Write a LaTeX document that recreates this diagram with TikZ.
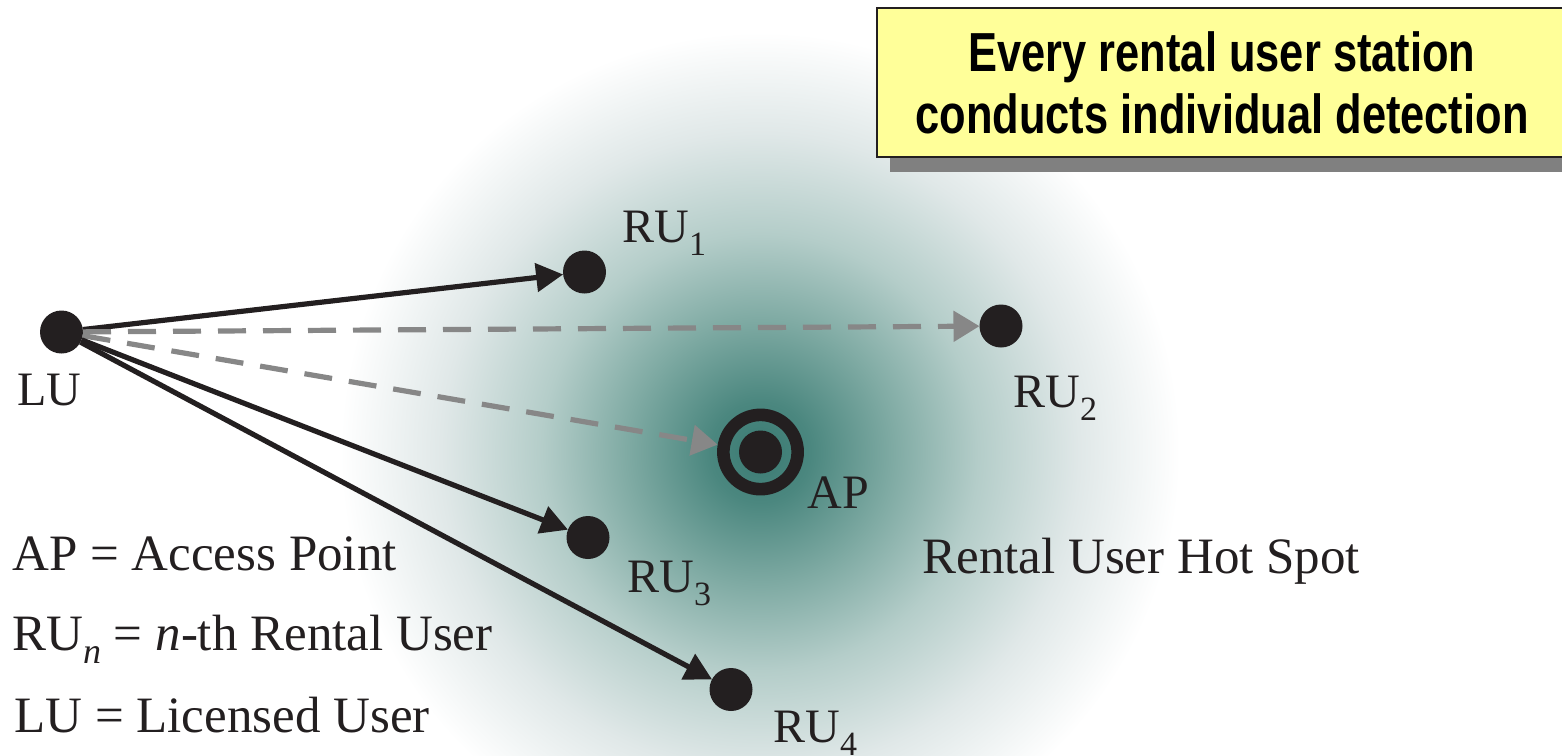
\documentclass[tikz,border=0pt]{standalone}
\usepackage{fontspec}
\setmainfont{Liberation Serif}
\newfontfamily\titlefont[FakeStretch=0.79, UprightFont=* Bold]{Liberation Sans}
\usetikzlibrary{arrows.meta,shadows}

\definecolor{ink}{RGB}{35,31,32}
\definecolor{dashgray}{RGB}{135,135,135}
\definecolor{boxyellow}{RGB}{255,255,153}
\definecolor{shadowgray}{RGB}{128,128,128}
\definecolor{hsa}{RGB}{58,122,114}
\definecolor{hsb}{RGB}{75,135,127}
\definecolor{hsc}{RGB}{128,171,164}
\definecolor{hsd}{RGB}{180,205,201}
\definecolor{hse}{RGB}{224,232,232}
\pgfdeclareradialshading{hotspot}{\pgfpoint{0bp}{0bp}}{color(0bp)=(hsa); color(3bp)=(hsb); color(8bp)=(hsc); color(13bp)=(hsd); color(19bp)=(hse); color(25bp)=(white); color(50bp)=(white)}

\newcommand\lsub[1]{\raisebox{-6.5pt}{\fontsize{17pt}{17pt}\selectfont #1}}
\newcommand\legsub[1]{\raisebox{-6.5pt}{\fontsize{18pt}{18pt}\selectfont #1}}

\tikzset{
  dot/.style={circle, fill=ink, inner sep=0pt, outer sep=0pt, minimum size=21.5pt},
  apring/.style={circle, draw=ink, line width=6.3pt, inner sep=0pt, minimum size=37.15pt},
  lbl/.style={anchor=base west, inner sep=0pt, text=ink, font=\fontsize{24pt}{24pt}\selectfont},
  legend/.style={anchor=base west, inner sep=0pt, text=ink, font=\fontsize{25.5pt}{25.5pt}\selectfont},
  titlebox/.style={draw=ink, line width=0.75pt, fill=boxyellow, align=center,
    minimum width=345pt, minimum height=74.5pt, inner sep=0pt,
    font=\titlefont\fontsize{27.5pt}{31pt}\selectfont,
    drop shadow={shadow xshift=6.5pt, shadow yshift=-7.5pt, fill=shadowgray, opacity=1}},
  solidarrow/.style={draw=ink, line width=2.6pt, -{Triangle[length=13.5pt, width=14pt]}},
  dasharrow/.style={draw=dashgray, line width=2.6pt, dash pattern=on 14pt off 8.5pt, -{Triangle[length=13pt, width=15pt]}}
}

\begin{document}
\begin{tikzpicture}[x=0.5pt, y=-0.5pt]
\useasboundingbox (0,0) rectangle (1562,755);
\begin{scope}
  \clip (0,0) rectangle (1562,755);
  \shade[shading=hotspot] (760,452) circle (420);
\end{scope}

\node (title) [titlebox] at (1222,82.5) {Every rental user station\\conducts individual detection};

\node (LU)  [dot] at (61.5,332) {};
\node (RU1) [dot] at (584.5,272) {};
\node (RU2) [dot] at (1001,326) {};
\node (AP)  [apring] at (760.5,452) {};
\node (APc) [dot] at (760.5,452) {};
\node (RU3) [dot] at (588,537.5) {};
\node (RU4) [dot] at (731,689.5) {};

\draw[solidarrow] (LU) -- (RU1);
\draw[dasharrow] (LU) -- (RU2);
\draw[dasharrow] (LU) -- (AP);
\draw[solidarrow] (LU) -- (RU3);
\draw[solidarrow] (LU) -- (RU4);

\node (LUl)  [lbl] at (17,405) {LU};
\node (RU1l) [lbl] at (622,242) {RU\lsub{1}};
\node (RU2l) [lbl] at (1013,407) {RU\lsub{2}};
\node (APl)  [lbl] at (807,508) {AP};
\node (RU3l) [lbl] at (627,592) {RU\lsub{3}};
\node (RU4l) [lbl] at (773,742) {RU\lsub{4}};

\node (hot)  [legend] at (922,573) {Rental User Hot Spot};
\node (leg1) [legend] at (12,570) {AP = Access Point};
\node (leg2) [legend] at (12,650) {RU\legsub{\textit{n}} = \textit{n}-th Rental User};
\node (leg3) [legend] at (14,732) {LU = Licensed User};
\end{tikzpicture}
\end{document}
